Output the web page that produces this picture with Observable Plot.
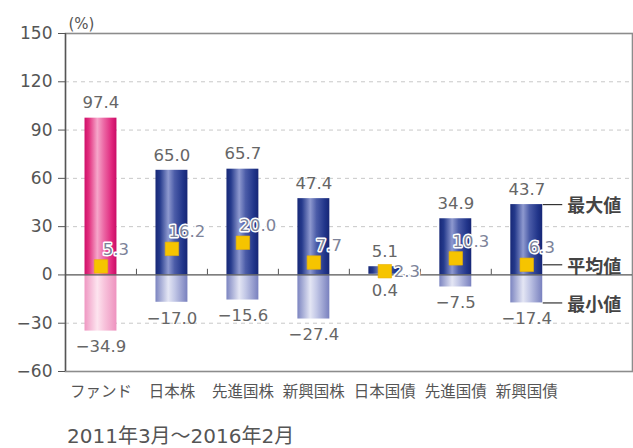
<!DOCTYPE html>
<html><head><meta charset="utf-8">
<script src="https://cdn.jsdelivr.net/npm/d3@7"></script>
<script src="https://cdn.jsdelivr.net/npm/@observablehq/plot@0.6"></script>
<style>
body{margin:0;background:#fff;}
#chart{position:absolute;left:0;top:0;}
#cap{position:absolute;left:67px;top:420px;font-size:20px;color:#555;font-family:"DejaVu Sans","Noto Sans CJK JP",sans-serif;white-space:nowrap;}
</style></head><body>
<div id="chart"></div>
<div id="cap">2011年3月～2016年2月</div>
<script>
const categories = ["ファンド","日本株","先進国株","新興国株","日本国債","先進国債","新興国債"];
const maxValues = [97.4, 65.0, 65.7, 47.4, 5.1, 34.9, 43.7];
const avgValues = [5.3, 16.2, 20.0, 7.7, 2.3, 10.3, 6.3];
const minValues = [-34.9, -17.0, -15.6, -27.4, 0.4, -7.5, -17.4];
const yTicks = [150, 120, 90, 60, 30, 0, -30, -60];
const gridValues = [120, 90, 60, 30, -30];
const legendLabels = ["最大値", "平均値", "最小値"];
const unitLabel = "(%)";

const rows = categories.map((c, i) => ({i, cat: c, max: maxValues[i], avg: avgValues[i], min: minValues[i]}));
const last = rows[rows.length - 1];
const legendRows = [
  {label: legendLabels[0], y: last.max},
  {label: legendLabels[1], y: last.avg},
  {label: legendLabels[2], y: last.min}
];
const hw = 0.225;
const fmt = d3.format(".1f");
const numFont = "DejaVu Sans, Noto Sans CJK JP, sans-serif";
const cjkFont = "Noto Sans CJK JP, sans-serif";
const lastI = rows.length - 1;

const posRect = (data, fill) => Plot.rectY(data, {
  x1: d => d.i - hw, x2: d => d.i + hw,
  y1: d => Math.max(0, d.min), y2: d => d.max, fill
});
const negRect = (data, fill) => Plot.rectY(data.filter(d => d.min < 0), {
  x1: d => d.i - hw, x2: d => d.i + hw,
  y1: d => d.min, y2: d => Math.min(0, d.max), fill
});
const fund = rows.filter(d => d.i === 0);
const others = rows.filter(d => d.i !== 0);
const shortBar = d => d.max - d.min < 10;

const svg = Plot.plot({
  width: 633, height: 410,
  marginLeft: 65, marginRight: 1, marginTop: 33, marginBottom: 39,
  style: {fontFamily: numFont, color: "#555", background: "white"},
  x: {type: "linear", domain: [-0.5, 7.49]},
  y: {domain: [-60, 150]},
  marks: [
    Plot.ruleY(gridValues, {stroke: "#c8c8c8", strokeDasharray: "4,4"}),
    Plot.frame({stroke: "#8c8c8c", strokeWidth: 1.6}),
    Plot.ruleX([-0.5], {stroke: "#555", strokeWidth: 1.3}),
    negRect(fund, "url(#pinkNeg)"),
    negRect(others, "url(#blueNeg)"),
    posRect(fund, "url(#pinkPos)"),
    posRect(others, "url(#bluePos)"),
    Plot.ruleY([0], {stroke: "#555", strokeWidth: 1.2}),
    Plot.ruleX(rows.slice(1).map(d => d.i - 0.5), {y1: 0, y2: 3.5, stroke: "#555"}),
    Plot.dot(rows, {x: "i", y: "avg", symbol: "square", r: 7.6, fill: "#f6c400", stroke: "#e9b000", strokeWidth: 0.6}),
    Plot.text(rows, {x: "i", y: "max", text: d => fmt(d.max), dy: -15, fontSize: 16.5, fill: "#666", fontFamily: numFont}),
    Plot.text(rows, {x: "i", y: "min", text: d => fmt(d.min), dy: 16, fontSize: 16.5, fill: "#666", fontFamily: numFont}),
    Plot.text(rows.filter(d => !shortBar(d)), {x: "i", y: "avg", text: d => fmt(d.avg), dx: 15, dy: -17, fontSize: 16.5, fill: "#7d8399", stroke: "white", strokeWidth: 3, fontFamily: numFont}),
    Plot.text(rows.filter(shortBar), {x: "i", y: "avg", text: d => fmt(d.avg), dx: 22, dy: 0, fontSize: 16.5, fill: "#7d8399", stroke: "white", strokeWidth: 3, fontFamily: numFont}),
    Plot.link(legendRows, {x1: lastI + hw, x2: lastI + 0.5, y1: "y", y2: "y", stroke: "#333", strokeWidth: 1.2}),
    Plot.text(legendRows, {x: lastI + 0.5, y: "y", text: "label", textAnchor: "start", dx: 5, dy: 2, fontSize: 18, fontWeight: "bold", fill: "#444", fontFamily: cjkFont}),
    Plot.text([unitLabel], {frameAnchor: "top-left", dx: 3, dy: -15, textAnchor: "start", fontSize: 15, fill: "#555", fontFamily: numFont}),
    Plot.axisY({ticks: yTicks, tickSize: 7, tickPadding: 6, fontSize: 17, label: null, tickFormat: d3.format("d"), stroke: "#555"}),
    Plot.axisX({ticks: d3.range(categories.length), tickFormat: i => categories[i], tickSize: 0, tickPadding: 14, fontSize: 15.5, label: null, fontFamily: cjkFont})
  ]
});

const defs = d3.select(svg).insert("defs", ":first-child");
function grad(id, stops) {
  const g = defs.append("linearGradient").attr("id", id).attr("x1", "0").attr("x2", "1").attr("y1", "0").attr("y2", "0");
  stops.forEach(([o, c]) => g.append("stop").attr("offset", o).attr("stop-color", c));
}
grad("bluePos", [[0, "#172877"], [0.14, "#253a8c"], [0.4, "#8e99cf"], [0.6, "#4b5ca8"], [0.86, "#21358a"], [1, "#162675"]]);
grad("blueNeg", [[0, "#7b84c0"], [0.4, "#e4e6f4"], [0.6, "#c2c7e6"], [1, "#7880be"]]);
grad("pinkPos", [[0, "#cf0f6a"], [0.14, "#e2307f"], [0.4, "#f6a6ca"], [0.6, "#ec69a6"], [0.86, "#df247b"], [1, "#c90c66"]]);
grad("pinkNeg", [[0, "#ef97c2"], [0.4, "#fde4ef"], [0.6, "#f8c6dd"], [1, "#ee92bf"]]);

document.getElementById("chart").appendChild(svg);
</script>
</body></html>
